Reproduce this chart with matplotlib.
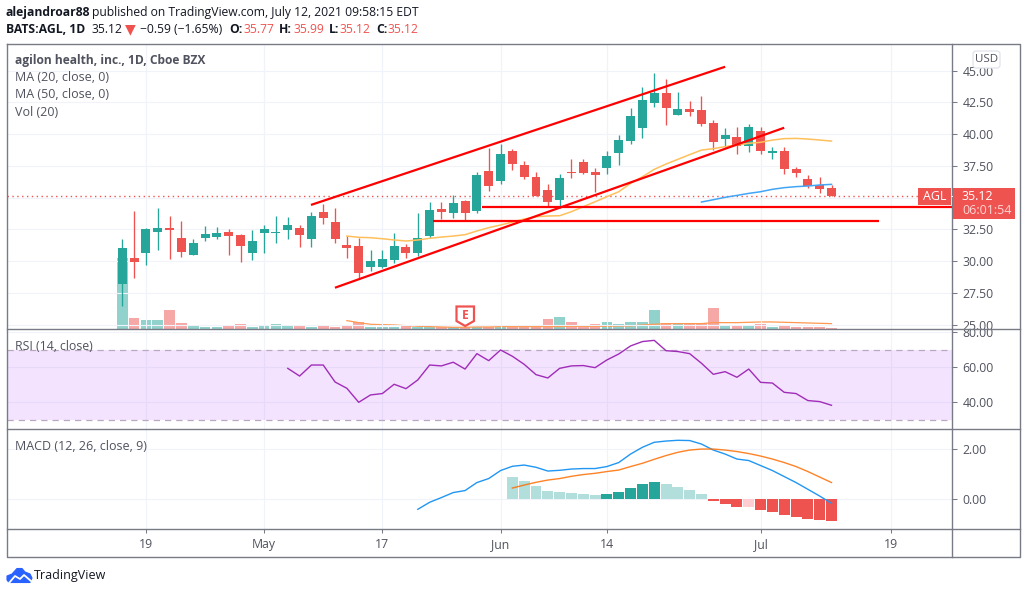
import matplotlib
matplotlib.use("Agg")
import matplotlib.pyplot as plt
from matplotlib.lines import Line2D
from matplotlib.patches import Polygon, Rectangle, FancyBboxPatch
from matplotlib.transforms import Affine2D, Bbox
import numpy as np

# ---------- data ----------
opens = [28.2,30.25,30.64,32.3,32.6,31.82,30.49,31.82,31.9,32.3,32.06,30.64,32.22,32.22,32.45,32.6,31.75,33.87,33.08,31.27,
         31.2,29.54,29.54,30.09,31.12,30.64,31.98,34.11,33.8,34.74,33.95,37.1,36.31,38.67,37.57,36.63,35.6,34.82,37.02,37.81,
         37.02,37.34,38.52,39.46,40.49,42.45,43.24,41.51,41.98,41.9,40.88,39.62,39.78,39.07,40.25,38.52,38.67,37.26,36.47,36.0,35.77]
closes = [31.04,29.93,32.53,32.6,32.45,30.72,31.43,32.14,32.22,31.98,31.2,31.59,32.53,32.3,32.85,32.06,33.56,33.4,31.75,31.04,
          29.07,30.0,30.17,31.2,30.64,31.82,34.03,33.87,34.58,33.8,36.78,35.92,38.44,37.65,36.63,35.13,34.66,36.55,36.94,36.94,
          36.78,38.28,39.54,41.43,42.69,43.24,42.06,41.98,41.75,40.8,39.38,39.93,39.07,40.56,38.67,38.67,37.26,36.94,35.92,35.68,35.12]
highs = [31.75,33.95,32.6,34.19,33.56,33.16,31.75,32.77,32.69,32.53,32.14,32.45,32.85,33.56,33.48,32.85,33.87,34.5,34.19,31.98,
         31.82,30.88,30.88,32.22,31.35,33.8,34.66,34.66,35.21,34.82,37.02,38.91,39.23,38.83,37.89,37.02,36.08,36.86,38.04,38.04,
         37.34,38.67,39.93,42.06,43.71,44.82,44.34,43.32,42.61,43.0,41.12,40.49,40.56,40.8,40.56,38.99,38.99,37.41,36.78,36.63,35.99]
lows = [26.47,28.67,29.7,30.88,30.17,30.33,30.49,31.59,31.75,30.49,29.93,30.09,30.64,31.43,31.75,31.12,31.12,32.93,31.43,30.25,
        28.6,29.23,29.46,29.86,30.25,30.4,31.82,33.32,33.4,33.24,33.8,35.52,36.08,37.18,36.47,35.13,34.34,34.19,36.55,36.86,
        35.45,36.86,37.57,39.23,39.7,42.14,40.72,41.51,41.43,40.64,38.75,38.99,38.44,38.6,38.44,38.04,36.86,36.63,35.76,35.37,35.12]
volumes = [21.4,3.4,2.8,2.8,5.8,1.9,1.0,0.7,0.7,1.0,1.6,0.7,1.3,1.6,1.3,1.3,0.7,1.3,0.7,1.3,2.2,0.7,0.7,0.7,1.0,0.7,0.7,0.8,0.8,0.8,
           0.8,0.8,0.8,0.8,0.8,0.8,3.1,3.7,2.2,1.2,1.5,2.2,1.5,2.2,2.2,5.8,1.8,1.8,1.8,1.8,6.4,1.0,0.9,1.3,1.6,0.6,0.9,0.7,0.7,0.7,0.3]
vol_ma_start = 19
vol_ma = [2.6,2.0,1.5,1.4,1.3,1.1,0.9,0.8,0.7,0.6,0.6,0.7,0.7,0.8,0.8,0.8,0.8,0.8,0.8,0.9,0.9,0.9,0.9,1.0,1.0,1.3,1.5,1.7,1.7,1.7,1.7,
          2.0,2.0,2.0,2.1,2.2,2.2,2.1,2.0,1.9,1.8,1.7]
ma20_start = 19
ma20 = [31.98,31.88,31.85,31.77,31.67,31.59,31.67,31.80,31.90,31.98,32.09,32.38,32.64,32.85,33.08,33.32,33.50,33.56,33.58,33.90,34.29,
        34.68,35.08,35.47,36.13,36.65,37.23,37.65,38.02,38.39,38.75,38.86,39.02,39.15,39.28,39.36,39.54,39.65,39.67,39.62,39.54,39.46]
ma50_start = 49
ma50 = [34.66,34.84,35.03,35.18,35.34,35.47,35.66,35.79,35.87,35.92,36.0,36.05]
rsi_start = 14
rsi = [59.4,55.0,61.3,61.3,51.6,48.0,40.0,44.2,45.0,50.3,47.8,52.8,61.3,60.8,62.9,59.0,67.8,63.8,69.9,66.3,61.7,55.8,53.9,59.4,60.8,61.0,59.8,
       64.2,67.6,72.2,74.7,75.4,69.5,69.0,67.8,62.3,56.0,57.5,54.3,59.0,51.4,51.0,45.7,45.0,41.0,40.4,38.3]
macd_start = 25
macd = [-0.40,-0.12,0.07,0.27,0.35,0.67,0.83,1.15,1.32,1.37,1.28,1.13,1.16,1.21,1.23,1.23,1.31,1.47,1.81,2.08,2.28,2.33,2.36,2.35,2.21,1.97,
        1.81,1.61,1.55,1.35,1.15,0.91,0.67,0.40,0.13,-0.16]
signal_start = 33
signal = [0.45,0.57,0.68,0.77,0.83,0.92,0.99,1.04,1.11,1.17,1.31,1.44,1.60,1.75,1.88,1.97,2.01,2.01,1.97,1.91,1.83,1.73,1.61,1.47,1.31,1.11,0.89,0.67]
hist = [0.89,0.73,0.53,0.33,0.29,0.25,0.21,0.17,0.21,0.29,0.45,0.61,0.69,0.61,0.49,0.37,0.21,-0.07,-0.19,-0.31,-0.30,-0.43,-0.51,-0.63,-0.71,-0.79,-0.83,-0.87]

channel_upper = ([15.96, 51.0], [34.43, 45.31])
channel_lower = ([17.99, 56.0], [27.91, 40.51])
support_upper = ([30.4, 71.9], [34.27, 34.27])
support_lower = ([26.3, 64.0], [33.17, 33.17])
last_price = 35.12

time_ticks = [2, 12, 22, 32, 41, 54, 65]
time_labels = ["19", "May", "17", "Jun", "14", "Jul", "19"]
price_ticks = [25, 27.5, 30, 32.5, 35, 37.5, 40, 42.5, 45]
price_shown = [25, 27.5, 30, 32.5, 37.5, 40, 42.5, 45]
rsi_ticks = [40, 60, 80]
macd_ticks = [0, 2]

# ---------- style ----------
W, H = 1027, 594
TEAL, RED = "#26a69a", "#ef5350"
GRID, FRAME, LABEL = "#f0f3fa", "#787b86", "#50535e"
FONT = ["Open Sans", "DejaVu Sans"]
plt.rcParams["font.family"] = FONT
PX = 0.72  # points per pixel at dpi 100

fig = plt.figure(figsize=(W / 100, H / 100), dpi=100, facecolor="white")
px = Affine2D().scale(1, -1).translate(0, H)

LEFT, RIGHT, AXR = 6.5, 952.3, 1020
TOP, S1, S2, S3, BOT = 43.5, 329.3, 429, 529.3, 557
X0, DX = 122.3, 11.82
xlim = ((LEFT - X0) / DX, (RIGHT - X0) / DX)

def pane(top, bottom, zorder=2):
    a = fig.add_axes([LEFT / W, 1 - bottom / H, (RIGHT - LEFT) / W, (bottom - top) / H], zorder=zorder)
    a.set_xlim(*xlim)
    a.patch.set_visible(False)
    for s in a.spines.values():
        s.set_visible(False)
    a.yaxis.tick_right()
    a.tick_params(axis="y", length=5 * PX, width=0.75, color=FRAME, labelcolor=LABEL, labelsize=12 * PX + 0.2, pad=5 * PX)
    a.set_xticks(time_ticks)
    a.tick_params(axis="x", length=0, labelbottom=False)
    a.grid(True, color=GRID, lw=0.8)
    a.set_axisbelow(True)
    return a

def pv(y):  # price at pixel row
    return 45 - (y - 70.7) / 12.7

# ---------- volume (behind the candles) ----------
av = pane(TOP, S1, zorder=1)
av.set_ylim(0, (S1 - TOP) / (10 / 3))
av.set_yticks([])
av.xaxis.grid(True)
idx = np.arange(len(opens))
up = np.array(closes) >= np.array(opens)
av.bar(idx, volumes, width=0.9, color=[TEAL if u else RED for u in up], alpha=0.5, lw=0)
av.plot(np.arange(len(vol_ma)) + vol_ma_start, vol_ma, color="#ff9850", lw=0.9)

# ---------- main pane ----------
am = pane(TOP, S1, zorder=2)
am.set_ylim(pv(S1), pv(TOP))
am.set_yticks(price_ticks)
am.set_yticklabels([f"{p:.2f}" if p in price_shown else "" for p in price_ticks])
am.yaxis.grid(True)
am.xaxis.grid(True)
cols = [TEAL if u else RED for u in up]
am.plot([xlim[0], xlim[1]], [last_price, last_price], color=RED, lw=1.0, ls=(0, (1, 2.5)), zorder=1)
am.vlines(idx, lows, highs, colors=cols, lw=0.95, zorder=3)
am.bar(idx, np.abs(np.array(closes) - np.array(opens)), bottom=np.minimum(opens, closes),
       width=0.76, color=cols, lw=0, zorder=3)
am.plot(np.arange(len(ma20)) + ma20_start, ma20, color="#ffc05c", lw=1.1, zorder=4)
am.plot(np.arange(len(ma50)) + ma50_start, ma50, color="#42a5f5", lw=1.1, zorder=4)
for xs, ys in (channel_upper, channel_lower, support_upper, support_lower):
    am.plot(xs, ys, color="#ff0000", lw=1.6, solid_capstyle="butt", zorder=5, clip_on=False)
clip_main = Bbox.from_extents(952, H - S1, 1020, H - TOP)
for lab in am.get_yticklabels():
    lab.set_clip_box(clip_main)
    lab.set_clip_on(True)

# ---------- RSI ----------
ar = pane(S1, S2, zorder=2)
ar.set_ylim(40 - (S2 - 402.3) / 1.75, 60 + (367.3 - S1) / 1.75)
ar.set_yticks(rsi_ticks)
ar.set_yticklabels([f"{v:.2f}" for v in rsi_ticks])
ar.yaxis.grid(True)
ar.xaxis.grid(True)
ar.axhspan(30, 70, color=(170 / 255, 60 / 255, 250 / 255), alpha=0.14, lw=0, zorder=1)
for lvl in (30, 70):
    ar.axhline(lvl, color="#b9a9c0", lw=0.9, ls=(0, (5, 4)), zorder=2)
ar.plot(np.arange(len(rsi)) + rsi_start, rsi, color="#a02cb8", lw=1.0, zorder=3)
clip = Bbox.from_extents(952, H - S2, 1020, H - S1)
for lab in ar.get_yticklabels():
    lab.set_clip_box(clip)
    lab.set_clip_on(True)

# ---------- MACD ----------
ac = pane(S2, S3, zorder=2)
ac.set_ylim(-(S3 - 499.3) / 25, (499.3 - S2) / 25)
ac.set_yticks(macd_ticks)
ac.set_yticklabels([f"{v:.2f}" for v in macd_ticks])
ac.yaxis.grid(True)
ac.xaxis.grid(True)
hcols = []
for i, v in enumerate(hist):
    prev = hist[i - 1] if i else v
    if v >= 0:
        hcols.append(TEAL if v > prev else "#b2dfdb")
    else:
        hcols.append("#ffcdd2" if v > prev else RED)
ac.bar(np.arange(len(hist)) + signal_start, hist, width=0.93, color=hcols, lw=0, zorder=2)
ac.plot(np.arange(len(macd)) + macd_start, macd, color="#2196f3", lw=1.0, zorder=3)
ac.plot(np.arange(len(signal)) + signal_start, signal, color="#ff6d00", lw=1.0, zorder=3, alpha=0.85)
ac.set_xticks(time_ticks)
ac.set_xticklabels(time_labels)
ac.tick_params(axis="x", length=4 * PX, width=0.75, color=FRAME, labelbottom=True, labelcolor=LABEL,
               labelsize=12 * PX + 0.2, pad=4.5 * PX)

# ---------- frame ----------
def pline(xs, ys, color=FRAME, lw=1.0):
    fig.add_artist(Line2D(xs, ys, transform=px, color=color, lw=lw, zorder=6))

pline([LEFT, AXR, AXR, LEFT, LEFT], [TOP, TOP, BOT, BOT, TOP])
pline([RIGHT, RIGHT], [TOP, BOT])
for y in (S1, S2, S3):
    pline([LEFT, AXR], [y, y])

# ---------- text helpers ----------
def ptext(x, y, s, color=LABEL, size=12.5, weight="normal", ha="left", zorder=8):
    return fig.text(x, H - y, s, transform=Affine2D(), color=color, fontsize=size * PX, fontweight=weight,
                    ha=ha, va="center", zorder=zorder)

# header
HS = 12.1
ptext(6, 12.5, "alejandroar88", "#131722", size=HS, weight="bold")
ptext(92, 12.5, "published on TradingView.com, July 12, 2021 09:58:15 EDT", "#131722", size=HS)
ptext(6, 29.5, "BATS:AGL, 1D", "#131722", size=HS, weight="bold")
ptext(91, 29.5, "35.12", "#131722", size=HS)
ptext(125, 29.5, "▼", RED, size=14)
ptext(140, 29.5, "−0.59 (−1.65%)", "#131722", size=HS)
for xl, lab, xv, val in ((229, "O:", 243, "35.77"), (279, "H:", 293, "35.99"), (329, "L:", 340, "35.12"), (376, "C:", 388, "35.12")):
    ptext(xl, 29.5, lab, "#131722", size=HS, weight="bold")
    ptext(xv, 29.5, val, RED, size=HS)

# pane legends
ptext(15, 60.5, "agilon health, inc., 1D, Cboe BZX", LABEL, size=12, weight="bold")
ptext(15, 77.5, "MA (20, close, 0)")
ptext(15, 94.5, "MA (50, close, 0)")
ptext(15, 112, "Vol (20)")
ptext(15, 346.5, "RSI (14, close)", size=12.2)
ptext(15, 447, "MACD (12, 26, close, 9)")

# USD box
fig.add_artist(FancyBboxPatch((975, 53), 23, 13, boxstyle="round,pad=2,rounding_size=3", transform=px,
                              fc="white", ec="#e0e3eb", lw=0.9, zorder=7))
ptext(986.5, 59.5, "USD", LABEL, size=11.5, ha="center")

# last price tags
fig.add_artist(Rectangle((918, 188), 33, 17, transform=px, fc=RED, ec="none", zorder=7))
fig.add_artist(Rectangle((952.8, 188), 62.2, 30.7, transform=px, fc=RED, ec="none", zorder=7))
pline([951, 957], [196.3, 196.3], color="white", lw=0.8)
ptext(934.5, 196.5, "AGL", "white", ha="center")
ptext(962, 196.5, "35.12", "white")
ptext(962, 211, "06:01:54", "#fbd5d4")

# earnings marker
fig.add_artist(Polygon([(456.5, 306.5), (474, 306.5), (474, 321), (465.2, 326), (456.5, 321)], closed=True, transform=px,
                       fc="white", ec=RED, lw=1.6, zorder=7))
ptext(465.2, 315.5, "E", RED, size=12, weight="bold", ha="center")

# logo
logo_blue = "#2962ff"
fig.add_artist(Polygon([(7, 580), (7, 576), (12, 574), (17, 568.5), (22, 568.5), (25, 572), (30, 574), (32, 578), (30, 582.5), (9, 582.5)],
                       closed=True, transform=px, fc=logo_blue, ec=logo_blue, lw=0.8, zorder=7, joinstyle="round"))
fig.add_artist(Line2D([9, 15, 20, 24, 31], [583, 576, 579, 575, 581], transform=px, color="white", lw=1.3, zorder=8))
ptext(34, 575.5, "TradingView", "#131722", size=12.5)

fig.savefig("out.png", dpi=100, facecolor="white")
